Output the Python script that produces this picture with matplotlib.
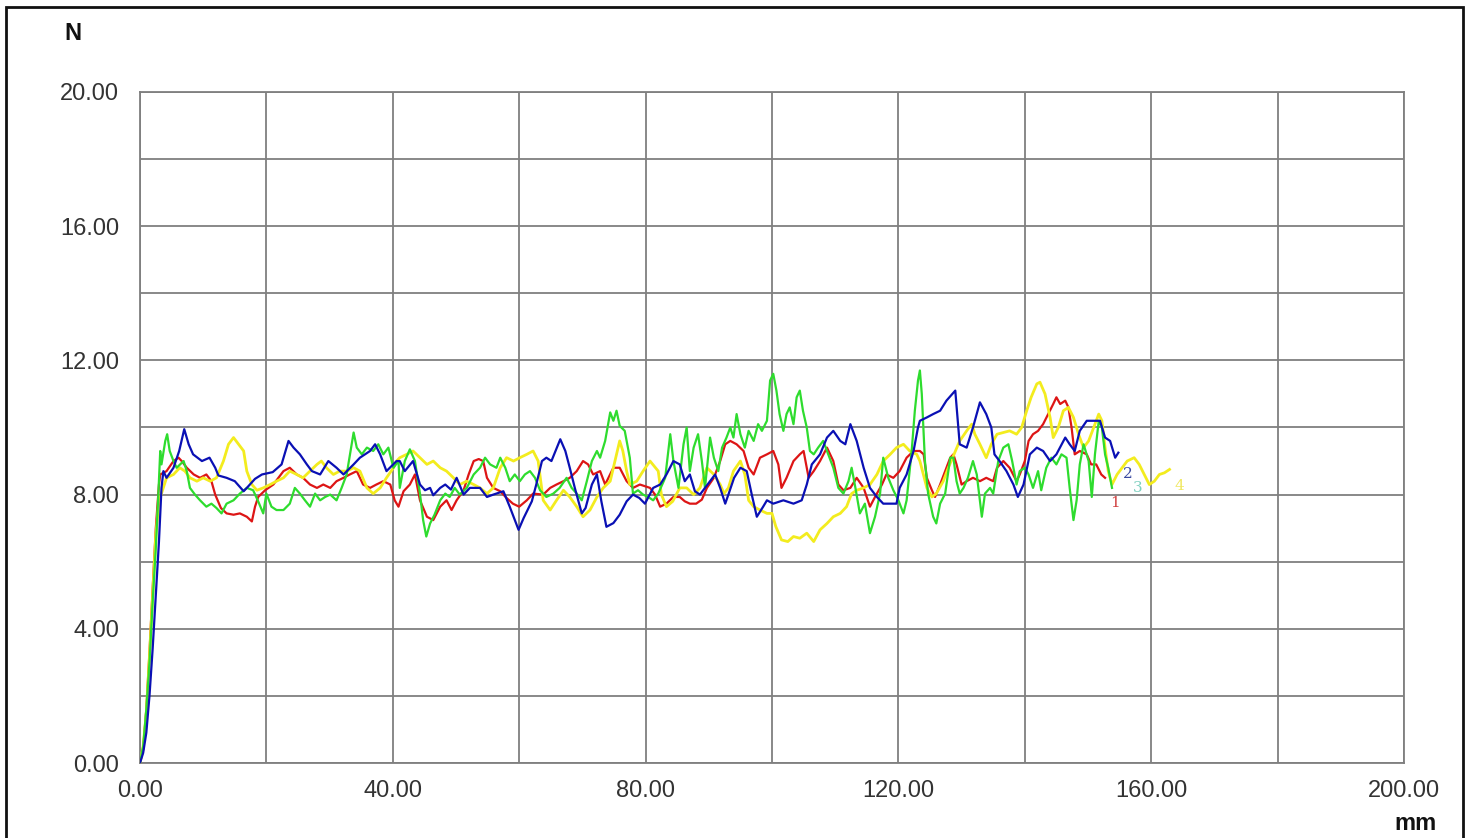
import matplotlib
matplotlib.use("Agg")
import matplotlib.pyplot as plt
from matplotlib.patches import Rectangle

# ---------------- data (mm, N) ----------------
red_x = [0, 0.5, 1.0, 1.5, 2.0, 2.5, 3.0, 3.2, 4.2, 5.3, 6.1, 6.6, 7.4, 8.5, 9.5, 10.5, 11.3, 11.9, 12.8, 13.7,
         14.8, 15.8, 16.9, 17.7, 18.2, 18.7, 19.8, 21.1, 22.7, 23.7, 24.8, 25.8, 26.9, 28.0, 29.0, 30.1, 31.1, 32.2,
         33.2, 34.3, 35.3, 36.4, 37.4, 38.5, 39.6, 40.3, 40.9, 41.7, 42.7, 43.5, 44.3, 45.4, 46.4, 47.5, 48.5, 49.3,
         50.1, 51.2, 52.0, 52.8, 53.6, 54.3, 54.9, 55.9, 57.0, 58.0, 59.0, 60.0, 61.2, 62.2, 63.8, 64.9, 65.9, 67.0,
         68.0, 69.1, 70.1, 70.9, 71.7, 72.8, 73.6, 74.9, 75.9, 77.0, 78.0, 79.1, 80.7, 81.5, 82.3, 83.3, 84.4, 85.4,
         86.2, 87.0, 88.0, 88.9, 89.7, 90.8, 91.8, 92.6, 93.4, 94.4, 95.5, 96.3, 97.1, 98.1, 99.2, 100.2, 101.0,
         101.5, 102.3, 103.4, 104.4, 105.0, 105.8, 106.6, 107.6, 108.7, 109.7, 110.5, 111.3, 112.4, 113.4, 114.5,
         115.5, 116.3, 117.4, 118.1, 119.2, 120.2, 121.3, 122.4, 123.4, 124.0, 124.5, 125.3, 125.8, 126.6, 127.4,
         128.2, 128.7, 129.2, 130.0, 130.8, 131.8, 132.9, 133.9, 135.0, 135.6, 136.6, 137.6, 138.7, 139.2, 140.0,
         140.6, 141.3, 142.1, 142.9, 143.7, 144.5, 145.0, 145.6, 146.4, 146.9, 147.4, 147.9, 148.7, 149.8, 150.5,
         151.3, 152.1, 152.7]
red_y = [0, 0.4, 1.6, 3.3, 5.2, 7.0, 8.3, 8.6, 8.7, 9.0, 9.1, 9.0, 8.8, 8.6, 8.5, 8.6, 8.4, 8.0, 7.6, 7.44,
         7.4, 7.44, 7.34, 7.2, 7.64, 7.93, 8.13, 8.3, 8.7, 8.8, 8.6, 8.5, 8.3, 8.2, 8.3, 8.2, 8.4, 8.5,
         8.6, 8.7, 8.3, 8.2, 8.3, 8.4, 8.3, 7.83, 7.64, 8.1, 8.3, 8.6, 7.83, 7.34, 7.24, 7.64, 7.83, 7.54,
         7.83, 8.13, 8.6, 9.0, 9.06, 9.0, 8.5, 8.2, 8.1, 7.9, 7.73, 7.64, 7.83, 8.03, 8.0, 8.2, 8.3, 8.4,
         8.5, 8.7, 9.0, 8.9, 8.6, 8.7, 8.3, 8.8, 8.8, 8.4, 8.2, 8.3, 8.2, 8.0, 7.64, 7.73, 7.93, 7.93,
         7.8, 7.73, 7.73, 7.85, 8.2, 8.5, 9.0, 9.5, 9.6, 9.5, 9.3, 8.8, 8.6, 9.1, 9.2, 9.3, 8.9,
         8.2, 8.5, 9.0, 9.2, 9.3, 8.5, 8.7, 9.0, 9.4, 9.0, 8.3, 8.13, 8.2, 8.5, 8.2,
         7.64, 7.93, 8.3, 8.6, 8.5, 8.7, 9.1, 9.3, 9.3, 9.2, 8.5, 8.13, 7.93, 8.3, 8.7,
         9.1, 9.2, 8.9, 8.3, 8.4, 8.5, 8.4, 8.5, 8.4, 8.8, 9.0, 8.8, 8.4, 8.6, 9.0,
         9.6, 9.8, 9.9, 10.1, 10.4, 10.7, 10.9, 10.7, 10.8, 10.6, 10.0, 9.2, 9.3, 9.2, 8.9,
         8.9, 8.6, 8.5]

blue_x = [0, 0.5, 1.0, 1.5, 2.0, 2.5, 3.0, 3.4, 3.7, 4.2, 5.3, 6.2, 7.0, 7.7, 8.4, 9.1, 9.8, 11.0, 11.9, 12.4,
          13.7, 15.0, 16.4, 16.9, 18.2, 19.3, 21.0, 22.4, 23.5, 24.3, 25.3, 26.4, 27.2, 28.5, 29.8, 31.1, 32.2,
          33.8, 34.8, 36.4, 37.2, 38.0, 39.0, 40.6, 41.1, 41.9, 43.2, 44.3, 45.1, 45.9, 46.4, 47.5, 48.3, 49.2,
          50.1, 51.2, 52.2, 53.8, 54.9, 55.9, 57.5, 58.5, 59.9, 60.7, 62.0, 62.7, 63.6, 64.3, 65.1, 66.5, 67.3,
          68.0, 68.8, 69.9, 70.5, 71.5, 72.3, 73.0, 73.8, 74.9, 75.9, 77.0, 78.0, 79.0, 79.9, 81.2, 82.3, 83.3,
          84.4, 85.4, 86.2, 87.0, 87.8, 88.6, 89.4, 90.2, 91.0, 91.8, 92.6, 93.1, 94.0, 95.0, 96.0, 96.8, 97.6,
          98.6, 99.2, 100.2, 101.8, 103.4, 104.7, 105.5, 106.3, 107.6, 108.7, 109.7, 110.8, 111.6, 112.4, 113.4,
          114.5, 115.5, 116.6, 117.6, 118.7, 119.7, 120.2, 121.3, 122.4, 123.1, 123.4, 124.5, 125.5, 126.6, 127.6,
          129.0, 129.7, 130.8, 131.8, 132.9, 133.9, 134.7, 135.2, 136.0, 137.1, 138.2, 138.9, 139.8, 140.8, 141.9,
          142.9, 144.0, 145.0, 146.4, 147.1, 147.9, 148.7, 149.8, 150.8, 151.9, 152.7, 153.5, 154.3, 154.8]
blue_y = [0, 0.3, 0.9, 2.0, 3.4, 5.0, 6.6, 8.2, 8.7, 8.5, 8.8, 9.3, 9.95, 9.5, 9.2, 9.1, 9.0, 9.1, 8.8, 8.57,
          8.5, 8.4, 8.1, 8.2, 8.47, 8.6, 8.67, 8.9, 9.6, 9.4, 9.2, 8.9, 8.7, 8.6, 9.0, 8.8, 8.6,
          8.9, 9.1, 9.3, 9.5, 9.2, 8.7, 9.0, 9.0, 8.7, 9.0, 8.3, 8.13, 8.2, 7.98, 8.2, 8.3, 8.15,
          8.5, 8.0, 8.2, 8.2, 7.93, 8.0, 8.1, 7.64, 6.95, 7.3, 7.8, 8.3, 9.0, 9.1, 9.0, 9.65, 9.3,
          8.8, 8.2, 7.44, 7.6, 8.3, 8.6, 7.8, 7.04, 7.15, 7.4, 7.8, 8.0, 7.9, 7.73, 8.2, 8.3, 8.6,
          9.0, 8.9, 8.4, 8.6, 8.1, 8.0, 8.2, 8.4, 8.6, 8.2, 7.73, 8.0, 8.5, 8.8, 8.7, 8.0, 7.34,
          7.64, 7.83, 7.73, 7.83, 7.73, 7.83, 8.3, 8.9, 9.2, 9.7, 9.9, 9.6, 9.5, 10.1, 9.6,
          8.8, 8.2, 7.93, 7.73, 7.73, 7.73, 8.2, 8.6, 9.3, 10.0, 10.2, 10.3, 10.4, 10.5, 10.8,
          11.1, 9.5, 9.4, 10.0, 10.75, 10.4, 10.0, 9.2, 9.0, 8.7, 8.3, 7.93, 8.3, 9.2, 9.4,
          9.3, 9.0, 9.2, 9.7, 9.5, 9.3, 9.9, 10.2, 10.2, 10.2, 9.7, 9.6, 9.1, 9.25]

green_x = [0, 0.5, 1.0, 1.5, 2.0, 2.5, 2.9, 3.2, 3.4, 4.0, 4.3, 4.7, 5.3, 5.8, 6.9, 7.4, 7.9, 8.7, 9.5, 10.5,
           11.3, 12.1, 12.9, 13.7, 14.8, 15.8, 16.9, 17.9, 18.7, 19.5, 20.0, 20.8, 21.6, 22.7, 23.7, 24.5, 25.3,
           26.1, 26.9, 27.7, 28.5, 29.3, 30.1, 31.1, 31.9, 32.7, 33.8, 34.3, 35.1, 35.9, 36.9, 37.7, 38.5, 39.3,
           40.1, 40.9, 41.1, 41.9, 42.7, 43.5, 44.3, 44.8, 45.3, 45.9, 46.6, 47.5, 48.3, 49.0, 49.8, 50.6, 51.7,
           52.8, 53.8, 54.6, 55.4, 56.4, 57.0, 57.8, 58.5, 59.3, 60.1, 60.9, 61.7, 62.5, 63.3, 64.3, 65.4, 66.4,
           67.5, 68.3, 69.1, 69.9, 70.7, 71.5, 72.3, 72.8, 73.6, 74.4, 74.9, 75.4, 75.9, 76.7, 77.5, 78.0, 78.8,
           79.6, 80.4, 81.2, 82.0, 83.1, 83.9, 84.4, 85.2, 86.0, 86.5, 87.0, 87.6, 88.3, 88.9, 89.4, 90.2, 90.8,
           91.5, 92.1, 92.8, 93.4, 93.9, 94.4, 95.0, 95.7, 96.3, 97.1, 97.8, 98.4, 99.2, 99.7, 100.2, 100.7,
           101.2, 101.8, 102.3, 102.8, 103.4, 103.9, 104.4, 104.9, 105.5, 106.0, 106.6, 107.3, 108.1, 108.9,
           109.7, 110.5, 111.3, 112.1, 112.6, 113.2, 113.9, 114.7, 115.5, 116.3, 117.1, 117.6, 118.4, 119.2,
           120.0, 120.8, 121.3, 122.1, 122.6, 123.1, 123.4, 123.7, 124.2, 124.7, 125.5, 126.0, 126.6, 127.4,
           128.2, 128.7, 129.2, 129.7, 130.3, 131.0, 131.8, 132.4, 133.2, 133.7, 134.5, 135.0, 135.8, 136.6,
           137.4, 138.0, 138.7, 139.2, 140.0, 140.6, 141.3, 142.1, 142.6, 143.4, 144.2, 145.0, 145.8, 146.6,
           147.1, 147.7, 148.2, 148.7, 149.3, 150.1, 150.6, 151.1, 151.7, 152.2, 152.7, 153.2, 153.8]
green_y = [0, 0.5, 1.6, 3.0, 4.8, 6.4, 8.0, 9.3, 8.9, 9.6, 9.8, 9.3, 9.0, 8.8, 9.0, 8.7, 8.2, 8.0, 7.83, 7.64,
           7.73, 7.6, 7.44, 7.73, 7.83, 8.03, 8.2, 8.13, 7.8, 7.44, 8.03, 7.64, 7.54, 7.54, 7.73, 8.2, 8.03,
           7.83, 7.64, 8.03, 7.83, 7.93, 8.0, 7.83, 8.2, 8.6, 9.85, 9.4, 9.2, 9.4, 9.3, 9.5, 9.2, 9.4,
           8.8, 9.0, 8.2, 9.0, 9.35, 9.0, 8.03, 7.24, 6.75, 7.14, 7.4, 7.83, 8.03, 7.93, 8.2, 8.0, 8.2,
           8.6, 8.8, 9.1, 8.9, 8.8, 9.1, 8.8, 8.4, 8.6, 8.4, 8.6, 8.7, 8.5, 8.13, 7.93, 8.03, 8.2,
           8.5, 8.2, 8.03, 7.83, 8.4, 9.0, 9.3, 9.1, 9.6, 10.45, 10.2, 10.5, 10.05, 9.9, 9.1, 8.03, 8.13,
           8.0, 7.93, 7.83, 8.03, 8.5, 9.8, 9.0, 8.2, 9.5, 10.0, 8.7, 9.4, 9.8, 9.0, 8.2, 9.7, 9.1,
           8.7, 9.4, 9.7, 10.0, 9.7, 10.4, 9.8, 9.4, 9.9, 9.6, 10.1, 9.9, 10.2, 11.4, 11.6, 11.1,
           10.4, 9.9, 10.4, 10.6, 10.1, 10.9, 11.1, 10.5, 10.0, 9.3, 9.2, 9.4, 9.6, 9.2,
           8.8, 8.2, 8.03, 8.4, 8.8, 8.2, 7.44, 7.73, 6.85, 7.34, 8.03, 9.1, 8.5, 8.13,
           7.83, 7.44, 7.83, 9.3, 10.5, 11.4, 11.7, 11.0, 9.0, 8.03, 7.34, 7.14, 7.73, 8.03,
           9.1, 9.1, 8.4, 8.03, 8.2, 8.5, 9.0, 8.6, 7.34, 8.03, 8.2, 8.03, 9.0, 9.4,
           9.5, 9.0, 8.3, 8.7, 8.8, 8.6, 8.2, 8.7, 8.13, 8.8, 9.1, 8.9, 9.2, 9.1,
           8.2, 7.24, 7.83, 8.9, 9.5, 9.0, 7.93, 9.2, 10.2, 10.0, 9.2, 8.8, 8.2]

yellow_x = [0, 0.5, 1.0, 1.5, 2.0, 2.5, 3.0, 3.4, 4.2, 5.3, 6.3, 7.1, 7.9, 9.0, 10.0, 11.1, 12.1, 13.2, 14.0,
            14.8, 15.6, 16.4, 16.9, 17.7, 18.5, 19.5, 20.6, 21.6, 22.7, 23.7, 24.8, 25.8, 26.9, 28.0, 28.7, 29.5,
            30.6, 31.6, 32.7, 33.8, 34.8, 35.9, 36.9, 38.0, 39.0, 40.1, 40.6, 41.1, 42.2, 43.2, 44.3, 45.4, 46.4,
            47.5, 48.5, 49.6, 50.6, 51.7, 52.8, 53.8, 54.9, 55.9, 57.0, 58.0, 59.1, 60.1, 61.2, 62.2, 63.0, 63.8,
            64.9, 65.9, 67.0, 68.0, 69.1, 70.1, 71.2, 72.3, 73.3, 74.4, 75.4, 75.9, 76.4, 77.0, 77.5, 78.6, 79.6,
            80.7, 82.0, 82.5, 83.3, 84.3, 85.4, 86.5, 87.6, 88.6, 89.7, 90.8, 91.8, 92.4, 93.1, 93.9, 95.0, 95.7,
            96.3, 97.1, 98.1, 99.2, 100.0, 100.6, 101.5, 102.5, 103.4, 104.4, 105.5, 106.6, 107.6, 108.7, 109.7,
            110.8, 111.8, 112.6, 113.4, 114.5, 115.5, 116.6, 117.6, 118.7, 119.7, 120.8, 121.8, 122.9, 123.4,
            124.5, 125.3, 126.0, 127.1, 127.9, 128.8, 129.7, 130.8, 131.6, 132.1, 132.9, 133.9, 134.7, 135.6,
            136.6, 137.6, 138.7, 139.5, 140.3, 141.0, 141.9, 142.4, 143.2, 144.0, 144.5, 145.3, 146.1, 146.9,
            147.7, 148.5, 149.3, 150.1, 150.9, 151.7, 152.2, 152.7, 153.2, 153.8, 154.6, 155.4, 156.2, 157.3,
            158.1, 158.9, 159.7, 160.5, 161.3, 162.1, 162.9]
yellow_y = [0, 0.5, 1.5, 3.2, 5.0, 6.8, 7.8, 8.03, 8.5, 8.6, 8.8, 8.7, 8.5, 8.4, 8.5, 8.4, 8.5, 9.0, 9.5,
            9.7, 9.5, 9.3, 8.7, 8.3, 8.13, 8.2, 8.3, 8.4, 8.5, 8.7, 8.6, 8.5, 8.7, 8.9, 9.0, 8.8,
            8.6, 8.7, 8.7, 8.8, 8.7, 8.2, 8.03, 8.2, 8.5, 8.8, 9.0, 9.1, 9.2, 9.3, 9.1, 8.9, 9.0,
            8.8, 8.7, 8.5, 8.3, 8.4, 8.3, 8.2, 8.03, 8.2, 8.8, 9.1, 9.0, 9.1, 9.2, 9.3, 9.0, 7.83,
            7.54, 7.83, 8.13, 7.93, 7.64, 7.34, 7.54, 7.93, 8.2, 8.4, 9.2, 9.6, 9.3, 8.7, 8.3, 8.4, 8.7,
            9.0, 8.7, 8.0, 7.64, 7.8, 8.2, 8.2, 8.0, 8.2, 8.8, 8.6, 8.3, 8.03, 8.2, 8.7, 9.0, 8.6,
            7.83, 7.64, 7.54, 7.44, 7.44, 7.05, 6.65, 6.6, 6.75, 6.7, 6.85, 6.6, 6.95, 7.14, 7.34,
            7.44, 7.64, 8.03, 8.13, 8.2, 8.3, 8.6, 9.0, 9.2, 9.4, 9.5, 9.3, 9.2, 9.0,
            8.2, 7.93, 8.03, 8.4, 8.8, 9.2, 9.6, 9.9, 10.1, 9.8, 9.5, 9.1, 9.5, 9.8,
            9.85, 9.9, 9.8, 10.0, 10.5, 10.9, 11.3, 11.35, 11.0, 10.3, 9.7, 10.0, 10.5, 10.6,
            10.3, 9.8, 9.4, 9.6, 10.0, 10.4, 10.2, 9.4, 8.7, 8.3, 8.6, 8.8, 9.0, 9.1,
            8.9, 8.6, 8.3, 8.4, 8.6, 8.65, 8.75]

series_labels = ["1", "2", "3", "4"]
label_pos_x = [154.2, 156.3, 157.9, 164.4]
label_pos_y = [7.75, 8.6, 8.2, 8.25]

x_ticks = [0, 40, 80, 120, 160, 200]
y_ticks = [0, 4, 8, 12, 16, 20]
x_grid = [20, 60, 100, 140, 180]
y_grid = [2, 6, 10, 14, 18]

# ---------------- figure ----------------
W, H = 1470, 838
fig = plt.figure(figsize=(W / 100, H / 100), dpi=100)
fig.patch.set_facecolor("white")
ax = fig.add_axes([140 / W, (H - 763) / H, (1404 - 140) / W, (763 - 92) / H])

grid_c = "#7f7f7f"
ax.set_xlim(0, 200)
ax.set_ylim(0, 20)
ax.set_xticks(x_ticks)
ax.set_yticks(y_ticks)
ax.set_xticklabels([f"{v:.2f}" for v in x_ticks])
ax.set_yticklabels([f"{v:.2f}" for v in y_ticks])
ax.set_xticks(x_grid, minor=True)
ax.set_yticks(y_grid, minor=True)
ax.grid(True, which="both", color=grid_c, linewidth=1.3)
ax.set_axisbelow(True)
ax.tick_params(which="both", length=0)
ax.tick_params(axis="x", pad=12)
ax.tick_params(axis="y", pad=15)
for lab in ax.get_xticklabels() + ax.get_yticklabels():
    lab.set_family("Liberation Sans")
    lab.set_fontsize(17)
    lab.set_color("#333333")
for s in ax.spines.values():
    s.set_color(grid_c)
    s.set_linewidth(1.3)

cols = {"red": "#dd1515", "blue": "#0a10b4", "green": "#2edc2e", "yellow": "#f3ec1e"}
lw = 1.6
ax.plot(red_x, red_y, color=cols["red"], lw=lw, zorder=3)
ax.plot(yellow_x, yellow_y, color=cols["yellow"], lw=lw + 0.4, zorder=4)
ax.plot(green_x, green_y, color=cols["green"], lw=lw, zorder=5)
ax.plot(blue_x, blue_y, color=cols["blue"], lw=lw, zorder=6)

lab_cols = ["#d04040", "#3a4aa0", "#7fd0c0", "#f0e860"]
for t, lx, ly, c in zip(series_labels, label_pos_x, label_pos_y, lab_cols):
    ax.text(lx, ly, t, color=c, fontsize=11, family="DejaVu Serif", ha="center", va="center", zorder=7)

fig.text(73 / W, 1 - 33 / H, "N", fontsize=17, fontweight="bold", family="Liberation Sans",
         ha="center", va="center", color="#111111")
fig.text(1437 / W, 1 - 823 / H, "mm", fontsize=17, fontweight="bold", family="Liberation Sans",
         ha="right", va="center", color="#111111")

fig.add_artist(Rectangle((6 / W, -0.01), (1463 - 6) / W, 1 - 7 / H + 0.01, transform=fig.transFigure,
                         fill=False, edgecolor="#111111", linewidth=2))

fig.savefig("out.png", dpi=100, facecolor="white")
